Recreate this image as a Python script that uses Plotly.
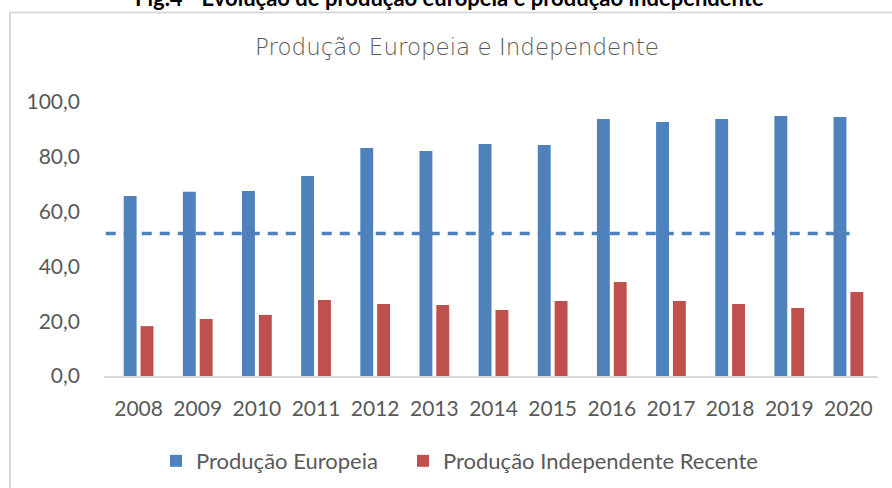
import plotly.graph_objects as go

years = ["2008", "2009", "2010", "2011", "2012", "2013", "2014",
         "2015", "2016", "2017", "2018", "2019", "2020"]
producao_europeia = [65.7, 67.2, 67.5, 73.0, 83.2, 82.1, 84.7,
                     84.3, 93.8, 92.7, 93.8, 94.9, 94.5]
producao_independente = [18.2, 20.8, 22.3, 27.7, 26.3, 25.9, 24.1,
                         27.4, 34.3, 27.4, 26.3, 24.8, 30.7]
reference_value = 52.0
y_ticks = [0, 20, 40, 60, 80, 100]

BLUE = "#4F81BD"
RED = "#C0504D"
GREY_TXT = "#595959"
FONT = "Lato"

L, R, T, B = 104, 14, 102, 112
W, H = 892, 488
PW, PH = W - L - R, H - T - B


def px_x(p):
    return (p - L) / PW


def px_y(p):
    return (H - B - p) / PH


fig = go.Figure()
fig.add_trace(go.Bar(x=years, y=producao_europeia, name="Produção Europeia",
                     marker=dict(color=BLUE, line=dict(width=0)), legend="legend"))
fig.add_trace(go.Bar(x=years, y=producao_independente,
                     name="Produção Independente Recente",
                     marker=dict(color=RED, line=dict(width=0)), legend="legend2"))

# reference dashed line
fig.add_shape(type="line", xref="x", yref="y", x0=-0.555, x1=12.02,
              y0=reference_value, y1=reference_value,
              line=dict(color=BLUE, width=3.5, dash="10px,8px"), layer="above")

# chart border (extends beyond the photographed area)
fig.add_shape(type="rect", xref="paper", yref="paper",
              x0=px_x(10), x1=px_x(905), y0=px_y(505), y1=px_y(12.5),
              line=dict(color="#D9D9D9", width=2), layer="below")

# cropped outer figure title
fig.add_annotation(text="<b>Fig.4 - Evolução de produção europeia e produção independente</b>",
                   xref="paper", yref="paper", x=px_x(449), y=px_y(-2.5),
                   xanchor="center", yanchor="middle", showarrow=False,
                   font=dict(family=FONT, size=22, color="#000000"))

legend_common = dict(orientation="h", xanchor="left", yanchor="middle",
                     font=dict(family=FONT, size=22, color=GREY_TXT),
                     bgcolor="rgba(0,0,0,0)", borderwidth=0)

fig.update_layout(
    width=W, height=H,
    margin=dict(l=L, r=R, t=T, b=B, autoexpand=False),
    paper_bgcolor="white", plot_bgcolor="white",
    separators=",.",
    barmode="group", bargap=0.43, bargroupgap=0.235,
    title=dict(text="Produção Europeia e Independente", x=457 / W, xref="container",
               xanchor="center", y=1 - 47 / H, yref="container", yanchor="middle",
               font=dict(family="DejaVu Sans", size=23, color=GREY_TXT, weight=200)),
    font=dict(family=FONT, color=GREY_TXT),
    showlegend=True,
    legend=dict(x=px_x(156), y=px_y(461), **legend_common),
    legend2=dict(x=px_x(403), y=px_y(461), **legend_common),
    xaxis=dict(type="category", showline=True, linecolor="#D9D9D9", linewidth=1.5,
               showgrid=False, ticks="", tickfont=dict(family=FONT, size=21, color=GREY_TXT),
               ticklabelstandoff=13, automargin=False, fixedrange=True),
    yaxis=dict(range=[0, 100], tickvals=y_ticks, tickformat=".1f", showgrid=False,
               zeroline=False, showline=False, ticks="",
               tickfont=dict(family=FONT, size=21, color=GREY_TXT),
               ticklabelstandoff=23, automargin=False, fixedrange=True),
)

fig.write_html("out.html", config={"displayModeBar": False},
               post_script="document.body.style.margin='0';document.body.style.padding='0';")
